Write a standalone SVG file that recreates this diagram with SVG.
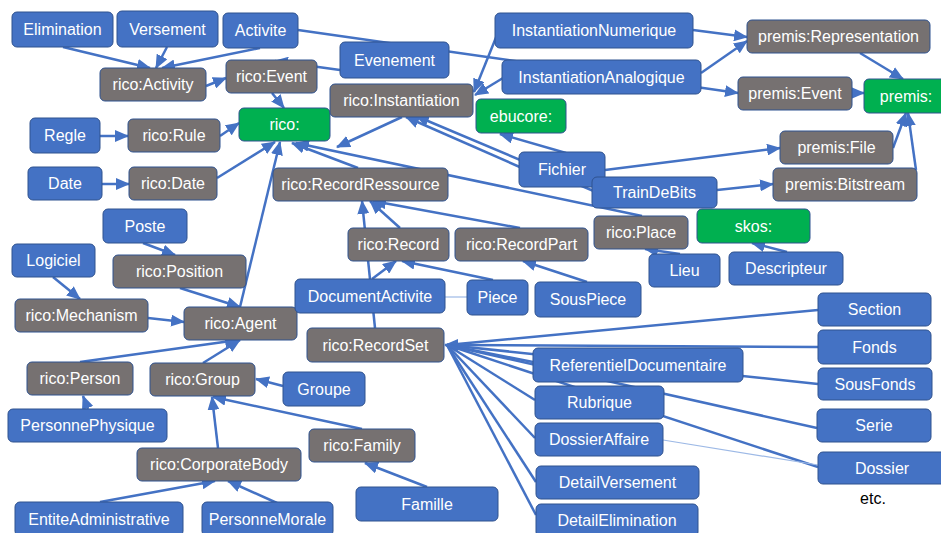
<svg xmlns="http://www.w3.org/2000/svg" width="941" height="533" viewBox="0 0 941 533">
<style>
.n rect{stroke:#2F528F;stroke-width:1}
.b rect{fill:#4472C4}
.g rect{fill:#767171}
.v rect{fill:#00B050}
.n text{fill:#fff;font-family:"Liberation Sans",Arial,sans-serif;font-size:16px;text-anchor:middle;dominant-baseline:central}
#edges line{stroke:#4472C4;stroke-width:2.5;fill:none}
#edges line.a{marker-end:url(#ah)}
#edges line.t{stroke:#9DB9E6;stroke-width:1.2}
</style>
<defs>
<marker id="ah" markerUnits="userSpaceOnUse" markerWidth="14" markerHeight="12" refX="13" refY="6" orient="auto">
<path d="M0,0 L14,6 L0,12 z" fill="#4472C4"/>
</marker>
</defs>
<rect width="941" height="533" fill="#fff"/>
<g id="edges">
<line class="a" x1="63" y1="47" x2="150" y2="68"/>
<line class="a" x1="167" y1="47" x2="156" y2="68"/>
<line class="a" x1="260" y1="48" x2="162" y2="68"/>
<line class="a" x1="206" y1="86" x2="226" y2="78"/>
<line class="a" x1="298" y1="30" x2="738" y2="93"/>
<line class="a" x1="340" y1="70" x2="275" y2="61"/>
<line class="a" x1="272" y1="93" x2="284" y2="108"/>
<line class="a" x1="100" y1="136" x2="128" y2="136"/>
<line class="a" x1="220" y1="136" x2="239" y2="123"/>
<line class="a" x1="102" y1="184" x2="129" y2="184"/>
<line class="a" x1="217" y1="178" x2="275" y2="142"/>
<line class="a" x1="402" y1="117" x2="337" y2="147"/>
<line class="a" x1="358" y1="168" x2="292" y2="143"/>
<line class="a" x1="240" y1="307" x2="280" y2="142"/>
<line class="a" x1="642" y1="216" x2="296" y2="143"/>
<line class="a" x1="497" y1="35" x2="474" y2="92"/>
<line class="a" x1="503" y1="78" x2="475" y2="95"/>
<line class="a" x1="522" y1="168" x2="406" y2="117"/>
<line class="a" x1="596" y1="192" x2="416" y2="116"/>
<line class="a" x1="566" y1="153" x2="500" y2="134"/>
<line class="a" x1="605" y1="170" x2="780" y2="148"/>
<line class="a" x1="717" y1="190" x2="773" y2="184"/>
<line class="a" x1="893" y1="148" x2="906" y2="113"/>
<line class="a" x1="916" y1="170" x2="908" y2="113"/>
<line class="a" x1="860" y1="53" x2="903" y2="79"/>
<line class="a" x1="852" y1="93" x2="864" y2="93"/>
<line class="a" x1="693" y1="30" x2="747" y2="37"/>
<line class="a" x1="701" y1="73" x2="747" y2="41"/>
<line class="a" x1="400" y1="228" x2="370" y2="201"/>
<line class="a" x1="520" y1="228" x2="373" y2="201"/>
<line class="a" x1="375" y1="328" x2="362" y2="201"/>
<line class="a" x1="372" y1="279" x2="396" y2="261"/>
<line class="a" x1="493" y1="280" x2="402" y2="261"/>
<line class="t" x1="445" y1="297" x2="467" y2="297"/>
<line class="a" x1="587" y1="282" x2="523" y2="261"/>
<line class="a" x1="680" y1="254" x2="645" y2="249"/>
<line class="a" x1="787" y1="252" x2="752" y2="243"/>
<line class="a" x1="143" y1="243" x2="175" y2="255"/>
<line class="a" x1="53" y1="277" x2="80" y2="299"/>
<line class="a" x1="180" y1="288" x2="240" y2="307"/>
<line class="a" x1="148" y1="318" x2="184" y2="322"/>
<line class="a" x1="80" y1="362" x2="238" y2="340"/>
<line class="a" x1="203" y1="363" x2="240" y2="340"/>
<line class="a" x1="283" y1="386" x2="256" y2="379"/>
<line class="a" x1="362" y1="429" x2="213" y2="397"/>
<line class="a" x1="218" y1="448" x2="212" y2="397"/>
<line class="a" x1="88" y1="409" x2="83" y2="396"/>
<line class="a" x1="100" y1="502" x2="215" y2="481"/>
<line class="a" x1="277" y1="503" x2="228" y2="481"/>
<line class="a" x1="427" y1="487" x2="365" y2="463"/>
<line x1="818" y1="310" x2="447" y2="345"/>
<line class="a" x1="818" y1="347" x2="445" y2="345"/>
<line x1="818" y1="384" x2="447" y2="345"/>
<line x1="533" y1="362" x2="447" y2="345"/>
<line x1="535" y1="400" x2="447" y2="345"/>
<line x1="817" y1="428" x2="447" y2="345"/>
<line x1="535" y1="438" x2="447" y2="345"/>
<line x1="818" y1="467" x2="447" y2="345"/>
<line x1="536" y1="482" x2="447" y2="345"/>
<line x1="536" y1="515" x2="447" y2="345"/>
<line class="t" x1="663" y1="440" x2="818" y2="465"/>
</g>
<g id="Elimination" class="n b"><rect x="12" y="12" width="101" height="35" rx="5"/><text x="62.5" y="29.5">Elimination</text></g>
<g id="Versement" class="n b"><rect x="117" y="11" width="101" height="36" rx="5"/><text x="167.5" y="29">Versement</text></g>
<g id="Activite" class="n b"><rect x="223" y="13" width="75" height="35" rx="5"/><text x="260.5" y="30.5">Activite</text></g>
<g id="rico_Activity" class="n g"><rect x="100" y="68" width="106" height="33" rx="5"/><text x="153" y="84.5">rico:Activity</text></g>
<g id="rico_Event" class="n g"><rect x="226" y="60" width="91" height="33" rx="5"/><text x="271.5" y="76.5">rico:Event</text></g>
<g id="rico" class="n v"><rect x="239" y="108" width="91" height="33" rx="5"/><text x="284.5" y="124.5">rico:</text></g>
<g id="Regle" class="n b"><rect x="30" y="118" width="70" height="35" rx="5"/><text x="65" y="135.5">Regle</text></g>
<g id="rico_Rule" class="n g"><rect x="128" y="119" width="92" height="33" rx="5"/><text x="174" y="135.5">rico:Rule</text></g>
<g id="Date" class="n b"><rect x="28" y="167" width="74" height="33" rx="5"/><text x="65" y="183.5">Date</text></g>
<g id="rico_Date" class="n g"><rect x="129" y="167" width="88" height="33" rx="5"/><text x="173" y="183.5">rico:Date</text></g>
<g id="Poste" class="n b"><rect x="103" y="209" width="84" height="34" rx="5"/><text x="145" y="226">Poste</text></g>
<g id="Logiciel" class="n b"><rect x="12" y="244" width="83" height="33" rx="5"/><text x="53.5" y="260.5">Logiciel</text></g>
<g id="rico_Position" class="n g"><rect x="113" y="255" width="133" height="33" rx="5"/><text x="179.5" y="271.5">rico:Position</text></g>
<g id="rico_Mechanism" class="n g"><rect x="15" y="299" width="133" height="33" rx="5"/><text x="81.5" y="315.5">rico:Mechanism</text></g>
<g id="rico_Agent" class="n g"><rect x="184" y="307" width="113" height="33" rx="5"/><text x="240.5" y="323.5">rico:Agent</text></g>
<g id="rico_Person" class="n g"><rect x="27" y="362" width="106" height="33" rx="5"/><text x="80" y="378.5">rico:Person</text></g>
<g id="rico_Group" class="n g"><rect x="150" y="363" width="105" height="33" rx="5"/><text x="202.5" y="379.5">rico:Group</text></g>
<g id="Groupe" class="n b"><rect x="283" y="372" width="82" height="34" rx="5"/><text x="324" y="389">Groupe</text></g>
<g id="PersonnePhysique" class="n b"><rect x="8" y="409" width="159" height="33" rx="5"/><text x="87.5" y="425.5">PersonnePhysique</text></g>
<g id="rico_CorporateBody" class="n g"><rect x="137" y="448" width="164" height="33" rx="5"/><text x="219" y="464.5">rico:CorporateBody</text></g>
<g id="rico_Family" class="n g"><rect x="309" y="429" width="106" height="33" rx="5"/><text x="362" y="445.5">rico:Family</text></g>
<g id="Famille" class="n b"><rect x="356" y="487" width="142" height="34" rx="5"/><text x="427" y="504">Famille</text></g>
<g id="EntiteAdministrative" class="n b"><rect x="15" y="502" width="168" height="34" rx="5"/><text x="99" y="519">EntiteAdministrative</text></g>
<g id="PersonneMorale" class="n b"><rect x="202" y="502" width="131" height="34" rx="5"/><text x="267.5" y="519">PersonneMorale</text></g>
<g id="Evenement" class="n b"><rect x="340" y="42" width="109" height="36" rx="5"/><text x="394.5" y="60">Evenement</text></g>
<g id="rico_Instantiation" class="n g"><rect x="330" y="84" width="143" height="33" rx="5"/><text x="401.5" y="100.5">rico:Instantiation</text></g>
<g id="InstantiationNumerique" class="n b"><rect x="495" y="13" width="198" height="35" rx="5"/><text x="594" y="30.5">InstantiationNumerique</text></g>
<g id="InstantiationAnalogique" class="n b"><rect x="502" y="60" width="199" height="34" rx="5"/><text x="601.5" y="77">InstantiationAnalogique</text></g>
<g id="ebucore" class="n v"><rect x="476" y="99" width="90" height="34" rx="5"/><text x="521" y="116">ebucore:</text></g>
<g id="premis_Representation" class="n g"><rect x="747" y="20" width="183" height="33" rx="5"/><text x="838.5" y="36.5">premis:Representation</text></g>
<g id="premis_Event" class="n g"><rect x="738" y="77" width="114" height="33" rx="5"/><text x="795" y="93.5">premis:Event</text></g>
<g id="premis" class="n v"><rect x="864" y="79" width="84" height="34" rx="5"/><text x="906" y="96">premis:</text></g>
<g id="premis_File" class="n g"><rect x="780" y="131" width="113" height="33" rx="5"/><text x="836.5" y="147.5">premis:File</text></g>
<g id="premis_Bitstream" class="n g"><rect x="773" y="168" width="144" height="33" rx="5"/><text x="845" y="184.5">premis:Bitstream</text></g>
<g id="Fichier" class="n b"><rect x="519" y="152" width="86" height="35" rx="5"/><text x="562" y="169.5">Fichier</text></g>
<g id="TrainDeBits" class="n b"><rect x="592" y="177" width="125" height="31" rx="5"/><text x="654.5" y="192.5">TrainDeBits</text></g>
<g id="rico_Place" class="n g"><rect x="594" y="216" width="94" height="33" rx="5"/><text x="641" y="232.5">rico:Place</text></g>
<g id="skos" class="n v"><rect x="697" y="209" width="113" height="34" rx="5"/><text x="753.5" y="226">skos:</text></g>
<g id="Lieu" class="n b"><rect x="649" y="254" width="71" height="33" rx="5"/><text x="684.5" y="270.5">Lieu</text></g>
<g id="Descripteur" class="n b"><rect x="729" y="252" width="114" height="33" rx="5"/><text x="786" y="268.5">Descripteur</text></g>
<g id="rico_RecordRessource" class="n g"><rect x="273" y="168" width="175" height="33" rx="5"/><text x="360.5" y="184.5">rico:RecordRessource</text></g>
<g id="rico_Record" class="n g"><rect x="348" y="228" width="101" height="33" rx="5"/><text x="398.5" y="244.5">rico:Record</text></g>
<g id="rico_RecordPart" class="n g"><rect x="455" y="228" width="133" height="33" rx="5"/><text x="521.5" y="244.5">rico:RecordPart</text></g>
<g id="DocumentActivite" class="n b"><rect x="295" y="279" width="150" height="34" rx="5"/><text x="370" y="296">DocumentActivite</text></g>
<g id="Piece" class="n b"><rect x="467" y="280" width="61" height="35" rx="5"/><text x="497.5" y="297.5">Piece</text></g>
<g id="SousPiece" class="n b"><rect x="535" y="282" width="106" height="35" rx="5"/><text x="588" y="299.5">SousPiece</text></g>
<g id="rico_RecordSet" class="n g"><rect x="307" y="328" width="137" height="34" rx="5"/><text x="375.5" y="345">rico:RecordSet</text></g>
<g id="ReferentielDocumentaire" class="n b"><rect x="533" y="348" width="210" height="34" rx="5"/><text x="638" y="365">ReferentielDocumentaire</text></g>
<g id="Rubrique" class="n b"><rect x="535" y="386" width="129" height="33" rx="5"/><text x="599.5" y="402.5">Rubrique</text></g>
<g id="DossierAffaire" class="n b"><rect x="535" y="423" width="128" height="33" rx="5"/><text x="599" y="439.5">DossierAffaire</text></g>
<g id="DetailVersement" class="n b"><rect x="536" y="466" width="163" height="33" rx="5"/><text x="617.5" y="482.5">DetailVersement</text></g>
<g id="DetailElimination" class="n b"><rect x="536" y="504" width="162" height="33" rx="5"/><text x="617" y="520.5">DetailElimination</text></g>
<g id="Section" class="n b"><rect x="818" y="293" width="113" height="33" rx="5"/><text x="874.5" y="309.5">Section</text></g>
<g id="Fonds" class="n b"><rect x="818" y="330" width="113" height="34" rx="5"/><text x="874.5" y="347">Fonds</text></g>
<g id="SousFonds" class="n b"><rect x="818" y="368" width="114" height="32" rx="5"/><text x="875" y="384">SousFonds</text></g>
<g id="Serie" class="n b"><rect x="817" y="409" width="114" height="33" rx="5"/><text x="874" y="425.5">Serie</text></g>
<g id="Dossier" class="n b"><rect x="818" y="452" width="128" height="32" rx="5"/><text x="882" y="468">Dossier</text></g>
<text x="873" y="504" font-family="Liberation Sans, Arial, sans-serif" font-size="16" fill="#000" text-anchor="middle">etc.</text>
</svg>
